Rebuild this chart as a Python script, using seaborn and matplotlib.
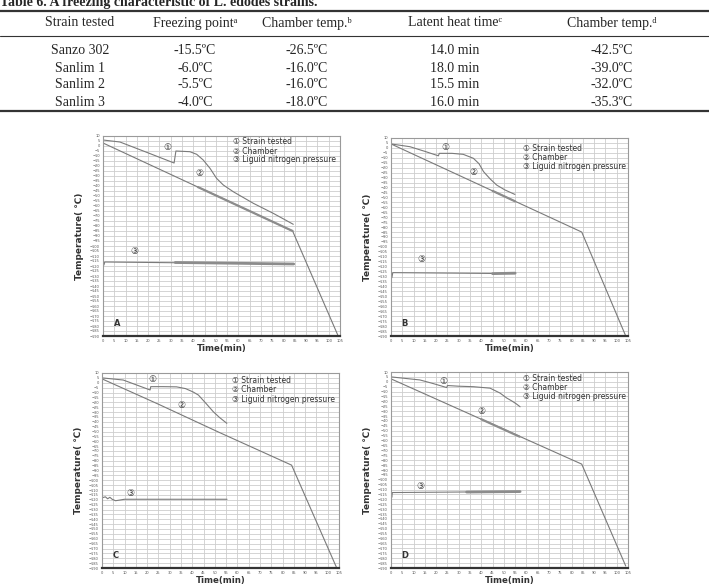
import matplotlib
matplotlib.use("Agg")
import matplotlib.pyplot as plt
from matplotlib.lines import Line2D
import numpy as np
import seaborn as sns

# ---- table data ----
table_title = "Table 6. A freezing characteristic of L. edodes strains."
col_headers = ["Strain tested", "Freezing point\u1d43", "Chamber temp.\u1d47",
               "Latent heat time\u1d9c", "Chamber temp.\u1d48"]
strains = ["Sanzo 302", "Sanlim 1", "Sanlim 2", "Sanlim 3"]
freezing_point = ["-15.5ºC", "-6.0ºC", "-5.5ºC", "-4.0ºC"]
chamber_temp_b = ["-26.5ºC", "-16.0ºC", "-16.0ºC", "-18.0ºC"]
latent_heat = ["14.0 min", "18.0 min", "15.5 min", "16.0 min"]
chamber_temp_d = ["-42.5ºC", "-39.0ºC", "-32.0ºC", "-35.3ºC"]

# ---- curve data (time in min, temperature in degC) ----
strain_a_t = [0, 7.5, 19, 31.5, 32.3, 38.5, 41.5, 44.4, 47.4, 50.3, 53.3, 57.7, 66.6, 75.4, 84.3]
strain_a_y = [6, 4, -6, -17, -5, -5.7, -8.3, -14, -22.3, -32.3, -39, -45.7, -57.3, -67.3, -78.3]
chamber_a_t = [0, 84, 104]
chamber_a_y = [3, -85, -189]
chamber_a_thick_t = [42, 84]
chamber_a_thick_y = [-41, -85]
ln2_a_t = [0, 0.4, 0.8, 84.5]
ln2_a_y = [-112, -119, -116, -118]
ln2_a_thick_t = [32, 84.5]
ln2_a_thick_y = [-116.5, -118]

strain_b_t = [0, 8.4, 15, 21, 21.4, 27, 32, 36.5, 39, 41, 44, 46.8, 50.5, 54.9]
strain_b_y = [4, 1.2, -3.5, -8, -5.5, -5.5, -6.5, -10.5, -16, -24, -31.5, -37.5, -42.5, -47]
chamber_b_t = [0, 84.5, 104]
chamber_b_y = [4, -85, -190]
chamber_b_thick_t = [45, 55]
chamber_b_thick_y = [-43.4, -54]
ln2_b_t = [0, 0.4, 0.8, 55]
ln2_b_y = [-121, -131, -126, -127]
ln2_b_thick_t = [45, 55]
ln2_b_thick_y = [-127, -126.5]

strain_c_t = [0, 9.4, 15, 21.3, 21.6, 27, 33, 37, 40.4, 42.7, 46, 49.3, 52, 55.3]
strain_c_y = [5, 2.8, -2, -7.4, -4, -4, -4.2, -6, -9.5, -12.6, -21, -29.7, -35.5, -41.6]
chamber_c_t = [0, 25, 52, 84, 104]
chamber_c_y = [4, -22, -51, -84.5, -190]
ln2_c_t = [0, 1.5, 2.5, 3.5, 4.5, 6, 10, 55.4]
ln2_c_y = [-118, -117, -119, -117.5, -119.5, -121, -119.5, -119.5]

strain_d_t = [0, 12.8, 19, 24.7, 25, 30, 36.5, 43.9, 48.3, 51.3, 53.5, 55.5, 57.2]
strain_d_y = [5, 1.9, -2, -5.9, -3.8, -4.5, -5, -6.5, -11.5, -16.6, -19.5, -22.5, -25.5]
chamber_d_t = [0, 84.5, 104]
chamber_d_y = [3, -84, -188]
chamber_d_thick_t = [40, 57]
chamber_d_thick_y = [-38.2, -56]
ln2_d_t = [0, 0.3, 0.6, 57.2]
ln2_d_y = [-110, -118, -113, -112]
ln2_d_thick_t = [33.5, 57.2]
ln2_d_thick_y = [-112.5, -112]

legend_lines = ["① Strain tested", "② Chamber", "③ Liguid nitrogen pressure"]

sns.set_style("white")
plt.rcParams['font.family'] = ['DejaVu Sans', 'Noto Sans CJK KR']
serif = ['Liberation Serif', 'DejaVu Sans']
sym = ['DejaVu Sans', 'Noto Sans CJK KR']

W, H = 709, 586
fig = plt.figure(figsize=(W / 100, H / 100), dpi=100)


def fy(py):
    return 1 - py / H


def fx(px):
    return px / W


# ---- table ----
fig.text(0.0, fy(6), table_title, fontsize=10, fontweight='bold', family=serif,
         va='baseline', ha='left')
for py, lw in [(11, 1.6), (36, 0.8), (111, 1.6)]:
    fig.add_artist(Line2D([0, 1], [fy(py), fy(py)], color='#333333', lw=lw,
                          transform=fig.transFigure))
col_x = [80, 195, 307, 455, 612]
row_y = [51, 68, 85, 102]
for x, h in zip(col_x, col_headers):
    fig.text(fx(x), fy(23), h, fontsize=10, family=serif, ha='center', va='center')
cols = [strains, freezing_point, chamber_temp_b, latent_heat, chamber_temp_d]
for x, col in zip(col_x, cols):
    for y, v in zip(row_y, col):
        fig.text(fx(x), fy(y), v, fontsize=10, family=serif, ha='center', va='center')

# ---- panels ----
line_c = '#7a7a7a'
panels = [
    dict(box=(103, 136, 237, 200), tag='A',
         strain=(strain_a_t, strain_a_y), chamber=(chamber_a_t, chamber_a_y),
         chamber_thick=(chamber_a_thick_t, chamber_a_thick_y),
         ln2=(ln2_a_t, ln2_a_y), ln2_thick=(ln2_a_thick_t, ln2_a_thick_y),
         marks=[(28.4, -2), (42.5, -28), (13.7, -106)], leg=(0.549, [0.97, 0.922, 0.88])),
    dict(box=(391, 138, 237, 198), tag='B',
         strain=(strain_b_t, strain_b_y), chamber=(chamber_b_t, chamber_b_y),
         chamber_thick=(chamber_b_thick_t, chamber_b_thick_y),
         ln2=(ln2_b_t, ln2_b_y), ln2_thick=(ln2_b_thick_t, ln2_b_thick_y),
         marks=[(23.9, 0), (36.5, -25), (13.6, -113)], leg=(0.555, [0.948, 0.903, 0.855])),
    dict(box=(102, 373, 237, 195), tag='C',
         strain=(strain_c_t, strain_c_y), chamber=(chamber_c_t, chamber_c_y),
         chamber_thick=None,
         ln2=(ln2_c_t, ln2_c_y), ln2_thick=None,
         marks=[(22.4, 3.5), (35.3, -23.5), (12.4, -113.4)], leg=(0.547, [0.96, 0.913, 0.865])),
    dict(box=(391, 372, 237, 196), tag='D',
         strain=(strain_d_t, strain_d_y), chamber=(chamber_d_t, chamber_d_y),
         chamber_thick=(chamber_d_thick_t, chamber_d_thick_y),
         ln2=(ln2_d_t, ln2_d_y), ln2_thick=(ln2_d_thick_t, ln2_d_thick_y),
         marks=[(23.2, 0.2), (40.2, -30), (13.2, -106.8)], leg=(0.555, [0.968, 0.921, 0.874])),
]

for p in panels:
    l, t, w, h = p['box']
    ax = fig.add_axes([l / W, 1 - (t + h) / H, w / W, h / H])
    for key, lw in [('strain', 0.8), ('chamber', 0.8), ('ln2', 0.8),
                    ('chamber_thick', 1.6), ('ln2_thick', 2.0)]:
        if p[key] is None:
            continue
        xs, ys = p[key]
        sns.lineplot(x=xs, y=ys, ax=ax, color=line_c if lw < 1 else '#8c8c8c',
                     lw=lw, estimator=None, sort=False, legend=False)
    for (mx, my), s in zip(p['marks'], ['①', '②', '③']):
        ax.text(mx, my, s, fontsize=6.5, family=sym, color='#333333',
                ha='center', va='center')
    lx, lys = p['leg']
    for ly, s in zip(lys, legend_lines):
        ax.text(lx, ly, s, transform=ax.transAxes, fontsize=5.5, family=sym,
                color='#333333', va='center', ha='left')
    ax.text(0.045, 0.065, p['tag'], transform=ax.transAxes, fontsize=6,
            fontweight='bold', color='#333333', va='center', ha='left')
    ax.set_xlim(0, 105)
    ax.set_ylim(-190, 10)
    ax.set_xticks(np.arange(0, 106, 5))
    ax.set_yticks(np.arange(-190, 11, 5))
    ax.grid(True, color='#cdcdcd', lw=0.6)
    ax.tick_params(labelsize=2.6, length=1.2, pad=1, colors='#555555')
    for s in ['top', 'right', 'left']:
        ax.spines[s].set_color('#9a9a9a')
        ax.spines[s].set_linewidth(0.8)
    ax.spines['bottom'].set_color('#333333')
    ax.spines['bottom'].set_linewidth(1.6)
    ax.set_xlabel('Time(min)', fontsize=6.2, fontweight='bold', labelpad=1,
                  color='#333333')
    ax.set_ylabel('Temperature( ℃)', fontsize=6.5, fontweight='bold', labelpad=4,
                  color='#333333', family=sym)

fig.savefig('out.png', dpi=100)
